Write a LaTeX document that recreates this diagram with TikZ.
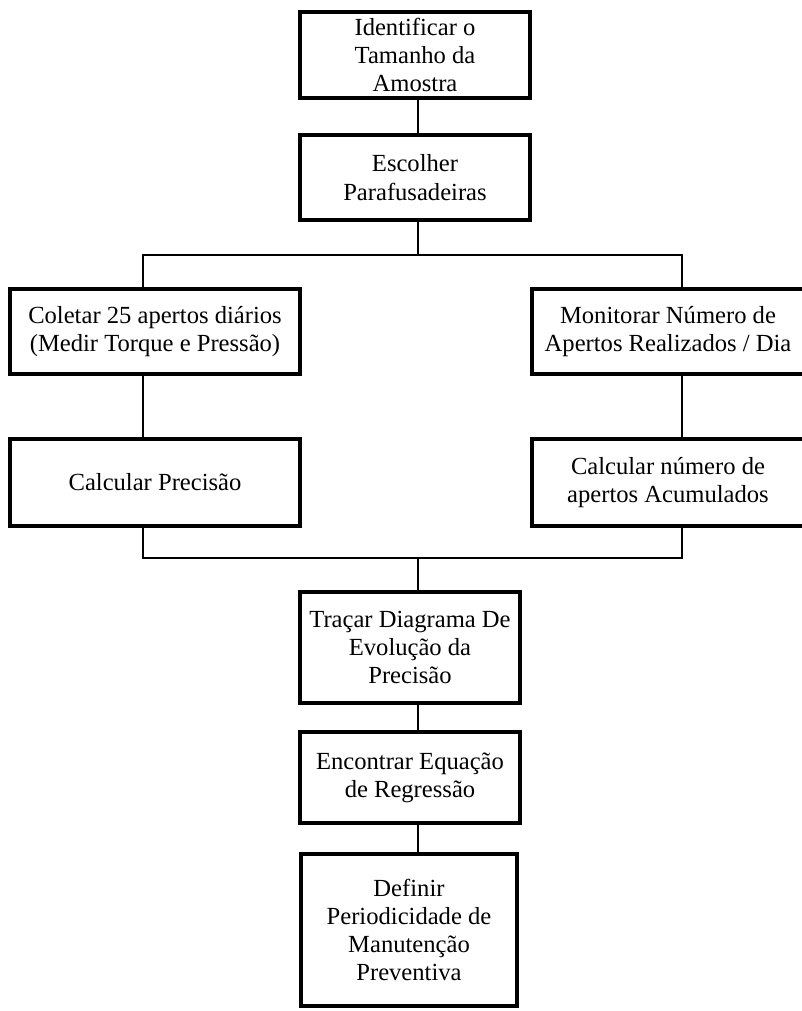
\documentclass[tikz,border=0pt]{standalone}
\usepackage{fontspec}
\setmainfont{Liberation Serif}
\begin{document}
\begin{tikzpicture}[x=1pt,y=-1pt,
  box/.style={draw=black, line width=4pt, align=center, inner sep=0pt,
    font=\fontsize{24.6}{28.2}\selectfont},
  link/.style={draw=black, line width=2pt}]
\useasboundingbox (0,0) rectangle (802,1011);
\node[box, minimum width=230pt, minimum height=86pt] (b1) at (415,55) {Identificar o\\Tamanho da\\Amostra};
\node[box, minimum width=230pt, minimum height=85pt] (b2) at (415,177.5) {Escolher\\Parafusadeiras};
\node[box, minimum width=290pt, minimum height=85pt] (l1) at (155,331.5) {Coletar 25 apertos diários\\(Medir Torque e Pressão)};
\node[box, minimum width=290pt, minimum height=87pt] (l2) at (155,482.5) {Calcular Precisão};
\node[box, minimum width=272pt, minimum height=85pt] (r1) at (668,331.5) {Monitorar Número de\\Apertos Realizados / Dia};
\node[box, minimum width=272pt, minimum height=87pt] (r2) at (668,482.5) {Calcular número de\\apertos Acumulados};
\node[box, minimum width=220pt, minimum height=111pt] (b3) at (410,647.5) {Traçar Diagrama De\\Evolução da\\Precisão};
\node[box, minimum width=220pt, minimum height=91pt] (b4) at (410,777.5) {Encontrar Equação\\de Regressão};
\node[box, minimum width=216pt, minimum height=152pt] (b5) at (409,930) {Definir\\Periodicidade de\\Manutenção\\Preventiva};
\coordinate (sp) at (418,255);
\coordinate (sl) at (143,255);
\coordinate (sr) at (682,255);
\coordinate (mp) at (418,558);
\coordinate (ml) at (143,558);
\coordinate (mr) at (682,558);
\draw[link] (b1.south -| sp) -- (b2.north -| sp);
\draw[link] (b2.south -| sp) -- (sp);
\draw[link] (l1.north -| sl) -- (sl) -- (sr) -- (r1.north -| sr);
\draw[link] (l1.south -| sl) -- (l2.north -| sl);
\draw[link] (r1.south -| sr) -- (r2.north -| sr);
\draw[link] (l2.south -| ml) -- (ml) -- (mr) -- (r2.south -| mr);
\draw[link] (mp) -- (b3.north -| mp);
\draw[link] (b3.south -| mp) -- (b4.north -| mp);
\draw[link] (b4.south -| mp) -- (b5.north -| mp);
\end{tikzpicture}
\end{document}
